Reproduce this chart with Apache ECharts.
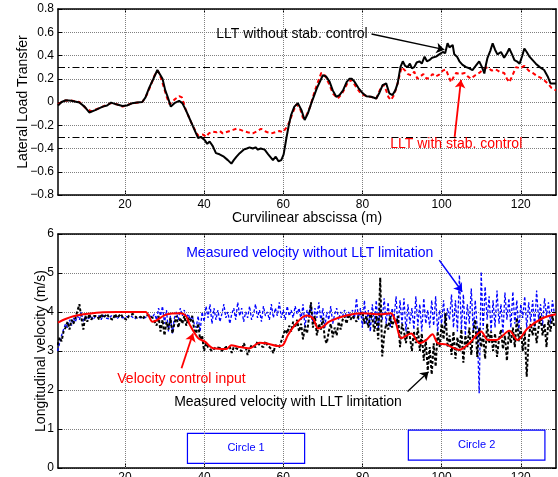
<!DOCTYPE html>
<html>
<head>
<meta charset="utf-8">
<script src="https://cdn.jsdelivr.net/npm/echarts@6/dist/echarts.min.js"></script>
<style>
  html, body { margin: 0; padding: 0; background: #fff; }
  #main { width: 558px; height: 477px; }
</style>
</head>
<body>
<div id="main"></div>
<script>
// x range of both plots (curvilinear abscissa, m)
const xMin = 3.1, xMax = 128.9;
const xTicks = [20, 40, 60, 80, 100, 120];

// top plot: lateral load transfer, [abscissa, LLT]
const lltWithout = [[3.1,-0.03],[4,0],[5.1,0.015],[6.5,0.01],[8.5,-0.005],[9.8,-0.04],[11,-0.09],[12.5,-0.07],[14.4,-0.04],[15.5,-0.03],[16.5,-0.005],[17.8,-0.02],[19.4,-0.035],[20.5,-0.03],[21.9,-0.01],[23,-0.005],[24.4,0],[25.2,0.04],[26.1,0.12],[27.2,0.2],[28.2,0.275],[29.5,0.2],[30.2,0.1],[30.8,0.045],[31.6,-0.04],[32.5,-0.01],[33.7,0.01],[34.5,-0.01],[35.4,-0.07],[36.3,-0.14],[37.2,-0.21],[38.5,-0.31],[39.2,-0.3],[40.2,-0.33],[40.8,-0.36],[41.4,-0.34],[42.2,-0.38],[43,-0.44],[43.9,-0.45],[45,-0.47],[46,-0.5],[46.9,-0.53],[47.5,-0.5],[48.2,-0.47],[49,-0.44],[50,-0.41],[50.8,-0.4],[51.5,-0.39],[52.3,-0.4],[53,-0.39],[53.6,-0.41],[54.3,-0.4],[55.3,-0.41],[56.2,-0.45],[57.4,-0.5],[58.1,-0.47],[58.8,-0.51],[59.5,-0.5],[60.1,-0.45],[60.8,-0.31],[61.4,-0.2],[62,-0.11],[62.8,-0.04],[63.7,-0.01],[64.6,-0.07],[65.4,-0.155],[66.2,-0.1],[67.1,-0.01],[68.5,0.12],[70,0.23],[70.8,0.22],[71.7,0.175],[72.5,0.1],[73.4,0.045],[74.2,0.06],[75.1,0.1],[76,0.17],[76.7,0.2],[77.3,0.2],[78,0.175],[79,0.12],[80.1,0.075],[81,0.05],[82.2,0.045],[83.5,0.03],[84.3,0.08],[85.1,0.145],[85.5,0.13],[86,0.16],[86.8,0.075],[87.6,0.06],[88.3,0.1],[88.9,0.16],[89.6,0.3],[90.2,0.35],[90.8,0.31],[91.4,0.3],[92,0.33],[92.5,0.29],[93.1,0.3],[93.7,0.34],[94.4,0.35],[95,0.33],[95.7,0.39],[96.3,0.35],[96.9,0.36],[97.6,0.38],[98.6,0.39],[99.4,0.41],[100.3,0.43],[100.9,0.42],[101.5,0.505],[102,0.47],[102.4,0.46],[102.8,0.49],[103.2,0.41],[103.9,0.39],[104.5,0.35],[105.3,0.32],[106.2,0.3],[107,0.29],[107.8,0.275],[108.6,0.31],[109.5,0.35],[110.2,0.3],[110.8,0.245],[111.2,0.32],[111.6,0.38],[112.3,0.44],[112.9,0.505],[113.5,0.45],[114.1,0.41],[115,0.43],[115.8,0.38],[116.5,0.42],[117.1,0.46],[117.8,0.41],[118.4,0.36],[119,0.35],[119.7,0.33],[120.4,0.4],[120.9,0.46],[121.5,0.43],[122.2,0.39],[123,0.36],[123.8,0.33],[124.8,0.3],[125.9,0.275],[126.8,0.22],[127.5,0.16],[128,0.145],[128.9,0.16]];

const lltWith = [[3.1,-0.02],[4.5,0.01],[6,0.015],[8.5,0],[10,-0.05],[11.5,-0.08],[13,-0.06],[14.4,-0.04],[16.5,-0.01],[18,-0.02],[19.4,-0.04],[21.9,-0.01],[24.4,0],[25.5,0.06],[26.5,0.14],[27.5,0.23],[28.3,0.27],[29.2,0.2],[29.8,0.13],[30.5,0.05],[31.3,-0.02],[32.5,0.02],[33.7,0.05],[34.4,0.04],[35.4,-0.07],[36.3,-0.14],[37.2,-0.21],[38.5,-0.29],[39.7,-0.28],[40.5,-0.3],[41.2,-0.27],[42.2,-0.255],[43.2,-0.26],[44,-0.25],[44.7,-0.27],[45.5,-0.26],[46.5,-0.25],[47.3,-0.24],[48.2,-0.23],[49.2,-0.24],[50,-0.25],[51,-0.26],[52.3,-0.27],[53.5,-0.25],[54.4,-0.23],[55.3,-0.25],[56,-0.26],[57,-0.27],[58,-0.26],[59,-0.25],[59.9,-0.26],[60.8,-0.22],[61.6,-0.17],[62.3,-0.1],[63.3,-0.02],[64.2,-0.05],[65,-0.14],[65.8,-0.12],[66.8,-0.04],[68,0.1],[69.6,0.25],[70.5,0.23],[71.5,0.16],[72.6,0.07],[73.8,0.03],[74.8,0.07],[75.6,0.12],[76.3,0.17],[77.3,0.19],[78.2,0.14],[79.2,0.09],[80.2,0.06],[81.5,0.05],[82.5,0.04],[83.5,0.03],[84.5,0.11],[85.3,0.15],[86,0.1],[86.6,0.04],[87.2,0.017],[88,0.06],[88.8,0.15],[89.9,0.3],[90.8,0.27],[91.5,0.24],[92.3,0.23],[93.1,0.26],[93.9,0.2],[94.6,0.22],[95.4,0.24],[96.2,0.2],[96.9,0.21],[97.7,0.24],[98.5,0.22],[99.4,0.235],[100.3,0.27],[101.1,0.28],[101.8,0.22],[102.4,0.17],[103.1,0.22],[103.7,0.25],[104.6,0.24],[105.8,0.25],[106.6,0.22],[107.4,0.2],[108.5,0.23],[109.5,0.25],[110.5,0.28],[111.6,0.3],[112.6,0.27],[113.7,0.28],[114.7,0.26],[115.8,0.25],[116.5,0.2],[117.1,0.17],[117.8,0.22],[118.8,0.3],[119.8,0.29],[120.9,0.31],[122,0.27],[123,0.25],[124.3,0.22],[125.5,0.2],[126.8,0.16],[127.8,0.12],[128.9,0.1]];

const lltLimits = [0.3, -0.3];

// bottom plot: longitudinal velocity (m/s)
const velControl = [[3.1,3.73],[5,3.82],[7,3.89],[9.5,3.94],[13.7,3.99],[18,4.0],[25.2,4.0],[27,3.75],[30.5,3.94],[33.9,3.97],[35.4,3.9],[36.4,3.67],[38.5,3.33],[40.2,3.24],[42.3,3.07],[45.6,3.05],[46.9,3.15],[48.6,3.11],[51.5,3.07],[54,3.21],[55.7,3.2],[58.7,3.13],[59.9,3.15],[61.2,3.41],[63.3,3.71],[65.8,3.91],[67.5,3.84],[68.8,3.58],[70,3.62],[71.7,3.76],[75.9,3.91],[80.1,3.97],[84.3,3.94],[87.2,3.97],[88.5,3.7],[89.8,3.33],[92.3,3.45],[94.4,3.2],[96.1,3.28],[97.7,3.43],[99,3.2],[101.1,3.17],[104.5,3.03],[107,3.2],[110,3.5],[111.7,3.28],[113.8,3.28],[117.1,3.52],[119.2,3.28],[121.7,3.58],[125.5,3.84],[128.9,3.94]];

// measured velocities sampled every 0.5 m starting at 3 m
const velStart = 3, velStep = 0.5;
const velWithLimit = [
  3.15,3.35,3.25,3.5,3.6,3.75,3.55,3.8,3.7,3.85,
  3.9,4.2,3.85,3.55,3.9,3.75,3.95,3.8,3.9,3.85,
  3.9,3.8,3.95,3.85,3.9,3.95,3.85,3.9,3.8,3.95,
  3.85,3.9,3.95,3.85,3.9,3.8,3.9,3.85,3.95,3.9,
  3.85,3.9,3.88,3.82,3.9,3.85,3.92,3.88,3.85,3.8,
  3.65,3.9,3.5,3.8,3.4,3.75,3.55,3.85,3.45,3.7,
  3.9,3.6,3.85,3.7,3.9,3.65,3.85,3.75,3.9,3.55,
  3.45,3.7,3.3,3.4,3.0,3.2,3.1,3.15,3.0,3.05,
  3.1,3.05,3.08,3.0,3.05,3.1,3.05,3.1,2.95,3.1,
  3.15,3.05,3.1,3.0,3.2,3.1,2.9,3.05,3.15,3.2,
  3.1,3.25,3.15,3.2,3.1,3.25,3.15,3.2,3.05,2.95,
  3.15,3.2,3.1,3.25,3.4,3.55,3.45,3.65,3.5,3.75,
  3.6,3.8,3.5,3.7,3.3,3.65,3.45,3.85,4.25,3.6,
  3.9,3.4,3.7,3.55,3.85,3.3,3.2,3.5,3.7,3.35,
  3.6,3.4,3.75,3.55,3.8,3.9,3.7,3.95,3.8,3.9,
  3.95,3.75,3.9,3.85,4.0,3.7,3.9,3.6,3.95,3.85,
  3.5,3.9,3.3,4.88,2.86,3.4,3.7,3.55,3.9,3.6,
  3.85,3.7,3.9,3.1,3.7,3.5,3.2,3.6,3.35,3.0,
  3.5,3.2,3.6,3.0,3.45,2.75,3.3,2.5,3.1,2.4,
  3.2,2.6,3.5,3.1,3.7,3.3,3.97,3.1,3.4,2.9,
  3.5,2.8,3.35,3.0,3.55,2.7,3.4,3.1,3.6,2.9,
  3.5,3.8,2.85,3.6,3.1,3.4,2.8,3.7,3.2,3.5,
  3.0,3.45,2.85,3.3,3.55,3.05,3.4,2.75,3.5,3.2,
  3.6,3.1,3.85,3.25,3.6,3.0,3.5,2.34,3.3,3.7,
  3.4,3.75,3.2,3.6,3.9,3.4,3.7,3.1,3.8,3.5,
  3.9,3.6
];
const velWithoutLimit = [
  3.0,3.2,3.4,3.55,3.7,3.6,3.8,3.65,3.85,3.75,
  3.9,3.8,4.0,3.75,3.9,3.8,3.85,3.9,3.8,3.88,
  3.85,3.9,3.8,3.92,3.85,3.88,3.82,3.9,3.85,3.9,
  3.82,3.88,3.9,3.85,3.8,3.88,3.85,3.9,3.85,3.82,
  3.88,3.9,3.85,3.9,3.85,3.88,3.9,3.85,3.88,3.95,
  3.8,4.1,3.9,4.15,3.7,4.05,3.5,3.9,3.45,3.85,
  4.0,3.8,4.1,3.9,4.05,3.85,3.95,3.8,3.9,3.7,
  3.6,3.9,3.5,4.0,3.75,4.15,3.85,4.2,3.7,4.1,
  3.8,4.05,3.75,3.95,4.2,3.85,4.0,3.7,3.95,4.1,
  3.8,4.25,3.9,4.1,3.75,4.0,3.85,4.15,3.8,3.95,
  4.2,3.85,4.05,3.75,4.15,3.9,4.0,3.8,4.2,3.85,
  4.1,3.9,4.25,3.85,4.05,3.8,4.15,3.9,4.05,3.85,
  4.15,3.95,4.1,3.8,4.2,3.6,4.05,3.9,4.2,3.7,
  4.1,3.85,4.25,3.75,4.1,3.6,4.0,3.8,4.15,3.7,
  3.95,4.1,3.8,4.0,3.9,4.05,3.85,4.0,3.9,4.05,
  3.85,4.35,3.8,4.1,3.6,4.3,3.7,4.05,3.5,4.2,
  3.7,4.3,3.55,4.15,3.8,4.35,3.7,4.25,3.6,4.1,
  3.85,4.4,3.55,4.3,3.7,4.35,3.5,4.2,3.7,4.1,
  3.55,4.4,3.65,4.2,3.5,4.35,3.7,4.05,3.6,4.3,
  3.65,4.4,3.5,4.05,3.7,4.3,3.55,4.1,3.8,4.45,
  3.6,4.3,3.5,4.95,3.55,4.45,3.4,4.2,3.7,4.6,
  3.5,4.3,3.6,1.92,5.03,3.55,4.65,3.8,4.4,3.5,
  4.3,3.6,4.55,3.7,4.2,3.45,4.5,3.8,4.35,3.6,
  4.52,3.7,4.3,3.5,4.2,3.85,4.4,3.6,4.25,3.75,
  4.3,3.6,4.55,3.8,4.2,3.65,4.35,3.9,4.25,3.7,
  4.3,3.95
];

const toPairs = arr => arr.map((v, i) => [velStart + i * velStep, v]);

const font = 'Liberation Sans, Arial, Helvetica, sans-serif';
const gridLineStyle = { color: '#808080', type: 'dotted', width: 1 };
const gridLine = { show: true, lineStyle: gridLineStyle };

function xAxisFor(gridIndex, withName) {
  return {
    type: 'value', gridIndex: gridIndex, min: xMin, max: xMax,
    name: withName ? 'Curvilinear abscissa (m)' : '',
    nameLocation: 'middle', nameGap: 16, nameMoveOverlap: false,
    nameTextStyle: { fontFamily: font, fontSize: 14, color: '#000' },
    axisLine: { show: true, onZero: false, lineStyle: { color: '#000', width: 1.5 } },
    axisTick: { show: true, inside: true, length: 4, customValues: xTicks, lineStyle: { color: '#000' } },
    axisLabel: { show: true, customValues: xTicks, margin: 4, fontFamily: font, fontSize: 12, color: '#000' },
    splitLine: { show: false }
  };
}
function xTopFor(gridIndex) {
  return {
    type: 'value', gridIndex: gridIndex, min: xMin, max: xMax, position: 'top',
    axisLine: { show: true, onZero: false, lineStyle: { color: '#000', width: 1.5 } },
    axisTick: { show: true, inside: true, length: 4, customValues: xTicks, lineStyle: { color: '#000' } },
    axisLabel: { show: false }, splitLine: { show: false }
  };
}
function yAxisFor(gridIndex, lo, hi, step, name, gap, fmt) {
  return {
    type: 'value', gridIndex: gridIndex, min: lo, max: hi, interval: step,
    name: name, nameLocation: 'middle', nameGap: gap, nameMoveOverlap: false,
    nameTextStyle: { fontFamily: font, fontSize: 14, color: '#000' },
    axisLine: { show: true, onZero: false, lineStyle: { color: '#000', width: 1.5 } },
    axisTick: { show: true, inside: true, length: 4, lineStyle: { color: '#000' } },
    axisLabel: { formatter: fmt, margin: 4, fontFamily: font, fontSize: 12, color: '#000' },
    splitLine: gridLine
  };
}
function yRightFor(gridIndex, lo, hi, step) {
  return {
    type: 'value', gridIndex: gridIndex, min: lo, max: hi, interval: step, position: 'right',
    axisLine: { show: true, onZero: false, lineStyle: { color: '#000', width: 1.5 } },
    axisTick: { show: true, inside: true, length: 4, lineStyle: { color: '#000' } },
    axisLabel: { show: false }, splitLine: { show: false }
  };
}

const lltLabel = v => Math.abs(v) < 1e-9 ? '0' : v.toFixed(1).replace('-', '\u2212');

// vertical dotted grid lines drawn as marker lines at the x ticks
const xGrid = xTicks.map(v => ({ xAxis: v, lineStyle: gridLineStyle }));

const option = {
  animation: false,
  backgroundColor: '#fff',
  grid: [
    { left: 58, top: 9, width: 498, height: 186, outerBoundsMode: 'none' },
    { left: 58, top: 234, width: 498, height: 234, outerBoundsMode: 'none' }
  ],
  xAxis: [xAxisFor(0, true), xTopFor(0), xAxisFor(1, false), xTopFor(1)],
  yAxis: [
    yAxisFor(0, -0.8, 0.8, 0.2, 'Lateral Load Transfer', 28, lltLabel),
    yRightFor(0, -0.8, 0.8, 0.2),
    yAxisFor(1, 0, 6, 1, 'Longitudinal velocity (m/s)', 10, '{value}'),
    yRightFor(1, 0, 6, 1)
  ],
  series: [
    {
      name: 'LLT with stab. control', type: 'line', xAxisIndex: 0, yAxisIndex: 0,
      data: lltWith, showSymbol: false, z: 3,
      lineStyle: { color: '#ff0000', width: 2, type: [4, 3] },
      markLine: {
        silent: true, symbol: ['none', 'none'], label: { show: false }, z: 1,
        lineStyle: { color: '#000', width: 1, type: [7, 3, 1.5, 3] },
        data: lltLimits.map(v => ({ yAxis: v })).concat(xGrid)
      }
    },
    {
      name: 'LLT without stab. control', type: 'line', xAxisIndex: 0, yAxisIndex: 0,
      data: lltWithout, showSymbol: false, z: 4,
      lineStyle: { color: '#000', width: 2 },
      markPoint: {
        symbol: 'circle', symbolSize: 0,
        data: [
          { coord: [62.2, 0.58], label: { show: true, position: 'inside', formatter: 'LLT without stab. control', color: '#000', fontFamily: font, fontSize: 14 } },
          { coord: [103.7, -0.36], label: { show: true, position: 'inside', formatter: 'LLT with stab. control', color: '#ff0000', fontFamily: font, fontSize: 14 } }
        ]
      },
      markLine: {
        silent: true, symbol: ['none', 'arrow'], symbolSize: 8, label: { show: false },
        data: [
          [{ coord: [82.3, 0.585], lineStyle: { color: '#000', width: 1.3, type: 'solid' } }, { coord: [100.7, 0.45] }],
          [{ coord: [103.3, -0.3], lineStyle: { color: '#ff0000', width: 1.8, type: 'solid' } }, { coord: [104.9, 0.19] }]
        ]
      }
    },
    {
      name: 'Measured velocity without LLT limitation', type: 'line', xAxisIndex: 2, yAxisIndex: 2,
      data: toPairs(velWithoutLimit), showSymbol: false, z: 3,
      lineStyle: { color: '#0000ff', width: 1.3, type: [3, 2] },
      markLine: { silent: true, symbol: ['none', 'none'], label: { show: false }, z: 1, data: xGrid },
      markArea: {
        silent: true,
        itemStyle: { color: 'rgba(0,0,0,0)', borderColor: '#0000ff', borderWidth: 1.2 },
        label: { show: true, position: 'inside', color: '#0000ff', fontFamily: font, fontSize: 11 },
        data: [
          [{ name: 'Circle 1', coord: [35.8, 0.89] }, { coord: [65.4, 0.12] }],
          [{ name: 'Circle 2', coord: [91.6, 0.97] }, { coord: [126.1, 0.2] }]
        ]
      }
    },
    {
      name: 'Measured velocity with LLT limitation', type: 'line', xAxisIndex: 2, yAxisIndex: 2,
      data: toPairs(velWithLimit), showSymbol: false, z: 4,
      lineStyle: { color: '#000', width: 2, type: [3, 2] }
    },
    {
      name: 'Velocity control input', type: 'line', xAxisIndex: 2, yAxisIndex: 2,
      data: velControl, showSymbol: false, smooth: 0.3, z: 5,
      lineStyle: { color: '#ff0000', width: 2 },
      markPoint: {
        symbol: 'circle', symbolSize: 0,
        data: [
          { coord: [66.7, 5.5], label: { show: true, position: 'inside', formatter: 'Measured velocity without LLT limitation', color: '#0000ff', fontFamily: font, fontSize: 14 } },
          { coord: [34.3, 2.28], label: { show: true, position: 'inside', formatter: 'Velocity control input', color: '#ff0000', fontFamily: font, fontSize: 14 } },
          { coord: [61.2, 1.7], label: { show: true, position: 'inside', formatter: 'Measured velocity with LLT limitation', color: '#000', fontFamily: font, fontSize: 14 } }
        ]
      },
      markLine: {
        silent: true, symbol: ['none', 'arrow'], symbolSize: 8, label: { show: false },
        data: [
          [{ coord: [99.4, 5.33], lineStyle: { color: '#0000ff', width: 1.5, type: 'solid' } }, { coord: [105.2, 4.52] }],
          [{ coord: [34.3, 2.56], lineStyle: { color: '#ff0000', width: 1.8, type: 'solid' } }, { coord: [37.2, 3.45] }],
          [{ coord: [91.4, 1.96], lineStyle: { color: '#000', width: 1.3, type: 'solid' } }, { coord: [96.7, 2.47] }]
        ]
      }
    }
  ]
};

const chart = echarts.init(document.getElementById('main'), null, { renderer: 'canvas' });
chart.setOption(option);
</script>
</body>
</html>
